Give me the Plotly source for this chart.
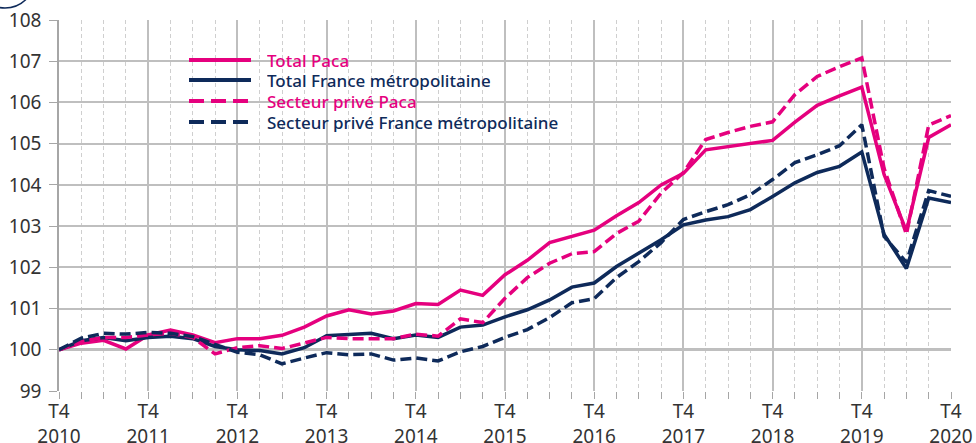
import plotly.graph_objects as go

# Quarterly index, T4 2010 = 100
quarters = ["T4 2010", "T1 2011", "T2 2011", "T3 2011", "T4 2011", "T1 2012", "T2 2012", "T3 2012",
            "T4 2012", "T1 2013", "T2 2013", "T3 2013", "T4 2013", "T1 2014", "T2 2014", "T3 2014",
            "T4 2014", "T1 2015", "T2 2015", "T3 2015", "T4 2015", "T1 2016", "T2 2016", "T3 2016",
            "T4 2016", "T1 2017", "T2 2017", "T3 2017", "T4 2017", "T1 2018", "T2 2018", "T3 2018",
            "T4 2018", "T1 2019", "T2 2019", "T3 2019", "T4 2019", "T1 2020", "T2 2020", "T3 2020",
            "T4 2020"]

total_paca = [100, 100.16, 100.23, 100.02, 100.36, 100.48, 100.36, 100.17, 100.27, 100.27,
              100.35, 100.55, 100.82, 100.97, 100.87, 100.94, 101.12, 101.1, 101.45, 101.32,
              101.82, 102.17, 102.6, 102.76, 102.9, 103.25, 103.57, 104.0, 104.28, 104.85,
              104.93, 105.0, 105.08, 105.52, 105.93, 106.16, 106.37, 104.25, 102.88, 105.15,
              105.46]

total_france = [100, 100.22, 100.3, 100.22, 100.3, 100.33, 100.27, 100.08, 100.0, 99.98,
                99.9, 100.05, 100.34, 100.36, 100.4, 100.27, 100.36, 100.3, 100.55, 100.6,
                100.8, 100.97, 101.21, 101.52, 101.62, 102.02, 102.35, 102.67, 103.03, 103.15,
                103.23, 103.4, 103.72, 104.05, 104.3, 104.45, 104.8, 102.8, 101.97, 103.68,
                103.57]

prive_paca = [100, 100.2, 100.3, 100.3, 100.36, 100.4, 100.3, 99.9, 100.05, 100.1,
              100.03, 100.17, 100.3, 100.27, 100.27, 100.27, 100.38, 100.33, 100.75, 100.66,
              101.25, 101.75, 102.1, 102.33, 102.38, 102.82, 103.12, 103.8, 104.3, 105.1,
              105.27, 105.42, 105.53, 106.19, 106.63, 106.87, 107.08, 104.4, 102.8, 105.45,
              105.68]

prive_france = [100, 100.28, 100.4, 100.38, 100.42, 100.4, 100.32, 100.12, 99.94, 99.88,
                99.66, 99.8, 99.93, 99.88, 99.9, 99.75, 99.8, 99.73, 99.95, 100.08,
                100.3, 100.49, 100.78, 101.14, 101.24, 101.75, 102.14, 102.6, 103.16, 103.35,
                103.52, 103.76, 104.13, 104.54, 104.73, 104.95, 105.46, 102.75, 102.12, 103.86,
                103.72]

series_names = ["Total Paca", "Total France métropolitaine",
                "Secteur privé Paca", "Secteur privé France métropolitaine"]

tick_labels = ["T4<br>2010", "T4<br>2011", "T4<br>2012", "T4<br>2013", "T4<br>2014", "T4<br>2015",
               "T4<br>2016", "T4<br>2017", "T4<br>2018", "T4<br>2019", "T4<br>2020"]

PINK = "#E5007E"
NAVY = "#0E2A5A"
FONT = "Noto Sans"
DASH = "11px,5px"

W, H = 976, 443
ML, MR, MT, MB = 59, 25, 20, 52
PW, PH = W - ML - MR, H - MT - MB


def px(X):
    return (X - ML) / PW


def py(Y):
    return (H - MB - Y) / PH


x = list(range(len(quarters)))
tick_vals = x[::4]

styles = [(PINK, "solid"), (NAVY, "solid"), (PINK, DASH), (NAVY, DASH)]
data = [total_paca, total_france, prive_paca, prive_france]

fig = go.Figure()
for series, name, (color, dash) in zip(data, series_names, styles):
    fig.add_trace(go.Scatter(
        x=x, y=series, mode="lines", name=name, showlegend=False,
        line=dict(color=color, width=3.5, dash=dash),
        customdata=quarters,
        hovertemplate="%{customdata}: %{y}<extra></extra>",
    ))

# baseline at 100
fig.add_shape(type="line", xref="paper", x0=0, x1=1, yref="y", y0=100, y1=100,
              line=dict(color="#7F7F7F", width=2.5), layer="below")
# decorative arc top-left
fig.add_shape(type="circle", xref="paper", yref="paper",
              x0=px(-25), x1=px(35), y0=py(8), y1=py(-52),
              line=dict(color=NAVY, width=1.5), fillcolor="rgba(0,0,0,0)")

# legend (custom, to match row spacing)
fig.add_shape(type="rect", xref="paper", yref="paper",
              x0=px(173), x1=px(596), y0=py(133), y1=py(43),
              fillcolor="white", line=dict(width=0), layer="below")
rows_y = [60, 80, 101, 122]
for (name, (color, dash), ry) in zip(series_names, styles, rows_y):
    fig.add_shape(type="line", xref="paper", yref="paper",
                  x0=px(189), x1=px(251), y0=py(ry), y1=py(ry),
                  line=dict(color=color, width=4, dash="15px,7px" if dash != "solid" else "solid"))
    fig.add_annotation(xref="paper", yref="paper", x=px(265), y=py(ry),
                       xanchor="left", yanchor="middle", showarrow=False,
                       height=19, valign="middle",
                       text=name, font=dict(family=FONT, size=17, color=color, weight=500))

fig.update_layout(
    width=W, height=H,
    margin=dict(l=ML, r=MR, t=MT, b=MB, autoexpand=False),
    paper_bgcolor="white", plot_bgcolor="white",
    font=dict(family=FONT, size=19, color="#333333"),
    showlegend=False,
    hovermode="closest",
)

fig.update_xaxes(
    range=[0, 40], automargin=False,
    tickmode="array", tickvals=tick_vals, ticktext=tick_labels,
    showgrid=True, gridcolor="#BFBFBF", gridwidth=1.5,
    ticks="outside", ticklen=7, tickcolor="#A6A6A6", tickwidth=1.2,
    minor=dict(dtick=1, tick0=0, showgrid=True, gridcolor="#CFCFCF", griddash="4px,3px",
               gridwidth=1, ticks="outside", ticklen=7, tickcolor="#A6A6A6"),
    showline=False, zeroline=False,
    tickfont=dict(size=19, color="#333333"),
    ticklabelstandoff=-4,
)
fig.update_yaxes(
    range=[99, 108], dtick=1, tick0=99, automargin=False,
    showgrid=True, gridcolor="#BFBFBF", gridwidth=1.5,
    ticks="outside", ticklen=8, tickcolor="#A6A6A6",
    showline=True, linecolor="#A6A6A6", linewidth=1.5,
    zeroline=False,
    tickfont=dict(size=19, color="#333333"),
    ticklabelstandoff=4,
)

fig.write_html("out.html", config={"displayModeBar": False},
               post_script="document.body.style.margin='0';")
